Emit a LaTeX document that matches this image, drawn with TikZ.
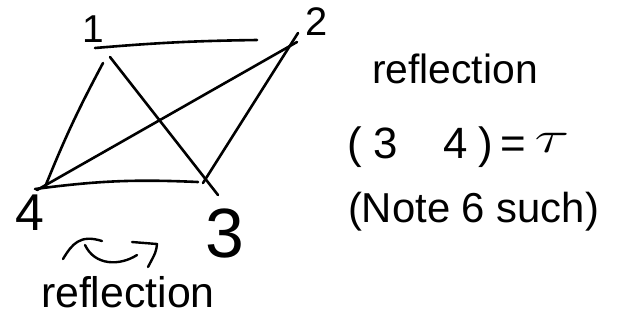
\documentclass[tikz,border=0pt]{standalone}
\usepackage{fontspec}
\setmainfont{Liberation Sans}
\begin{document}
\begin{tikzpicture}[x=1bp,y=-1bp,
  edge/.style={line width=2.6bp, line cap=round, line join=round},
  hand/.style={line width=2.4bp, line cap=round, line join=round},
  txt/.style={inner sep=0pt, outer sep=0pt, font=\fontsize{41}{48}\selectfont},
  vlab/.style={inner sep=0pt, outer sep=0pt, anchor=base}]
\useasboundingbox (0,0) rectangle (619,331);
% vertex labels
\node[vlab, font=\fontsize{39}{44}\selectfont] (l1) at (93,42) {1};
\node[vlab, font=\fontsize{40}{44}\selectfont] (l2) at (317,35) {2};
\node[vlab, font=\fontsize{52}{56}\selectfont] (l4) at (30,230) {4};
\node[vlab, font=\fontsize{70}{74}\selectfont] (l3) at (225,257) {3};
% edge end points
\coordinate (a12) at (95,48);  \coordinate (b12) at (257,40);
\coordinate (a14) at (103,63); \coordinate (b14) at (45,187);
\coordinate (a13) at (110,57); \coordinate (b13) at (218,195);
\coordinate (a24) at (297,42); \coordinate (b24) at (37,190);
\coordinate (a23) at (298,33); \coordinate (b23) at (203,183);
\coordinate (a43) at (35,189); \coordinate (b43) at (198,182);
% edges
\draw[edge] (a12) to[bend left=2] (b12);
\draw[edge] (a14) to[bend right=3] (b14);
\draw[edge] (a13) -- (b13);
\draw[edge] (a24) -- (b24);
\draw[edge] (a23) -- (b23);
\draw[edge] (a43) to[bend left=5] (b43);
% swap squiggle
\draw[hand] (63,259) .. controls (72,244) and (80,234) .. (102,241);
\draw[hand] (85,245) .. controls (95,266) and (120,266) .. (137,255);
\draw[hand] (132,242) -- (157,244) .. controls (156,252) .. (148,267);
% texts
\node[txt, anchor=base west] (r1) at (372,83) {reflection};
\node[txt, anchor=base west, font=\fontsize{44}{48}\selectfont] (cyc) at (347,158)
  {(\hspace{12bp}3\hspace{46bp}4\hspace{10bp})\hspace{8bp}=\hspace{8bp}\raisebox{6bp}{\scalebox{2.6}[1.8]{$\tau$}}};
\node[txt, anchor=base west, font=\fontsize{42}{48}\selectfont] (note) at (348,222) {(Note 6 such)};
\node[txt, anchor=base west, font=\fontsize{43}{48}\selectfont] (r2) at (41,307) {reflection};
\end{tikzpicture}
\end{document}
